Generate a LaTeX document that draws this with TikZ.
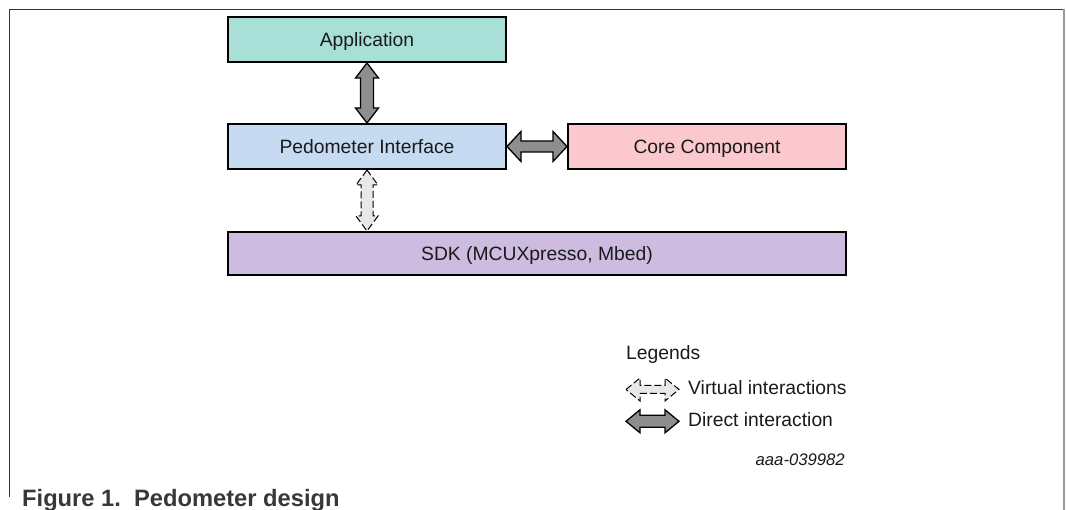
\documentclass[tikz,border=0pt]{standalone}
\usepackage{fontspec}
\setmainfont{Liberation Sans}
\usetikzlibrary{calc}
\definecolor{txt}{HTML}{1A1A1A}
\definecolor{capt}{HTML}{383838}
\definecolor{teal}{HTML}{A8E0D8}
\definecolor{lblue}{HTML}{C6DAF1}
\definecolor{lpink}{HTML}{FAC8CD}
\definecolor{lilac}{HTML}{CDBBE0}
\definecolor{dgray}{HTML}{8E8E8E}
\definecolor{vgray}{HTML}{E8E8E8}
\newcommand\vdblarrow[6]{%
 \draw[#1] (#2) -- ++(-#4,#6) -- ++({#4-#5},0) -- ($(#3)+(-#5,-#6)$) -- ++({#5-#4},0) -- (#3) -- ++(#4,-#6) -- ++({#5-#4},0) -- ($(#2)+(#5,#6)$) -- ++({#4-#5},0) -- cycle;}
\newcommand\hdblarrow[6]{%
 \draw[#1] (#2) -- ++(#6,-#4) -- ++(0,{#4-#5}) -- ($(#3)+(-#6,-#5)$) -- ++(0,{#5-#4}) -- (#3) -- ++(-#6,#4) -- ++(0,{#5-#4}) -- ($(#2)+(#6,#5)$) -- ++(0,{#4-#5}) -- cycle;}
\begin{document}
\begin{tikzpicture}[x=1pt,y=-1pt,
  box/.style={draw=black,line width=2pt,minimum height=45pt,inner sep=0pt,text=txt,font=\fontsize{19.3}{23}\selectfont,text height=13.6pt,text depth=0pt},
  direct/.style={draw=black,line width=1.3pt,fill=dgray,line join=miter},
  virtual/.style={draw=black,line width=1pt,fill=vgray,dashed,dash pattern=on 7pt off 3pt},
  lbl/.style={text=txt,inner sep=0pt,font=\fontsize{19.3}{23}\selectfont}]
\useasboundingbox (0,0) rectangle (1066,510);
% frame
\draw[line width=1.5pt,draw=black!80] (9.5,497) -- (9.5,9.5) -- (1064,9.5);
\draw[line width=2pt,draw=black!40] (1064,9.5) -- (1064,510);
% boxes
\node[box,fill=teal,minimum width=278pt] (app) at (367,39.5) {Application};
\node[box,fill=lblue,minimum width=278pt] (ped) at (367,146.5) {Pedometer Interface};
\node[box,fill=lpink,minimum width=278pt] (core) at (707,146.5) {Core Component};
\node[box,fill=lilac,minimum width=618pt,minimum height=43pt] (sdk) at (537,253.5) {SDK (MCUXpresso, Mbed)};
% connectors
\vdblarrow{direct}{app.south}{ped.north}{11.5}{6.5}{15}
\hdblarrow{direct}{ped.east}{core.west}{15}{5.5}{14}
\coordinate (sdktop) at (ped.south |- sdk.north);
\vdblarrow{virtual}{ped.south}{sdktop}{11}{6}{15}
% legend
\node[lbl,anchor=base west] (leg) at (626,360) {Legends};
\coordinate (v1) at (626,389.5);
\coordinate (v2) at (679,389.5);
\hdblarrow{virtual}{v1}{v2}{11.5}{4}{14}
\node[lbl,anchor=base west] (vtxt) at (688,395) {Virtual interactions};
\coordinate (d1) at (626,421.3);
\coordinate (d2) at (679,421.3);
\hdblarrow{direct}{d1}{d2}{11.5}{6}{14}
\node[lbl,anchor=base west] (dtxt) at (688,427) {Direct interaction};
\node[text=txt,inner sep=0pt,anchor=base east,font=\fontsize{16.7}{20}\selectfont\itshape] (id) at (845,466) {aaa-039982};
% caption
\node[text=capt,inner sep=0pt,anchor=base west,font=\fontsize{23.7}{28}\selectfont\bfseries] (cap) at (22,506) {Figure 1.\ \ Pedometer design};
\end{tikzpicture}
\end{document}
